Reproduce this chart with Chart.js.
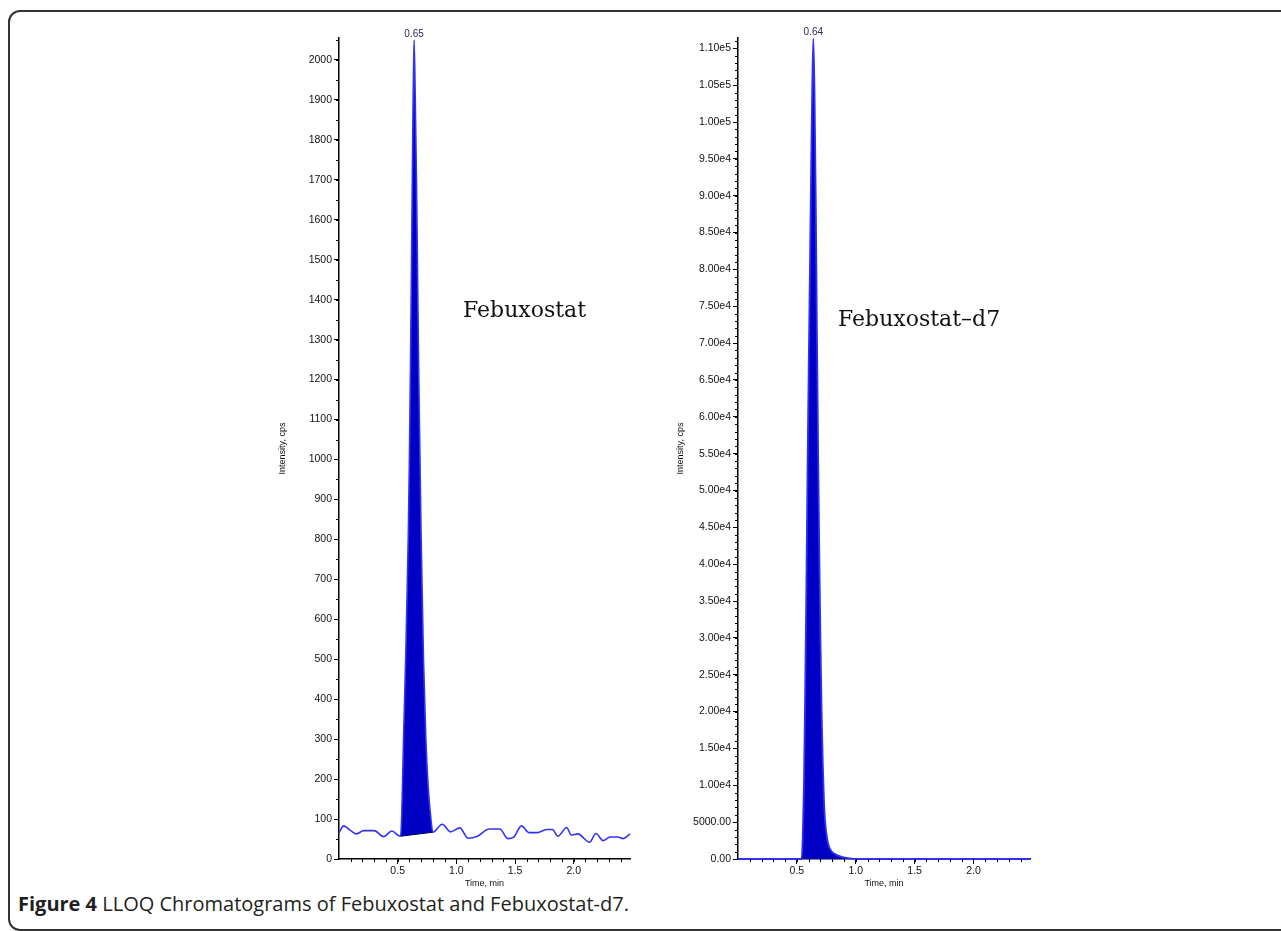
<!DOCTYPE html>
<html>
<head>
<meta charset="utf-8">
<script src="https://cdn.jsdelivr.net/npm/chart.js@4.4.1/dist/chart.umd.min.js"></script>
<style>
html,body{margin:0;padding:0;background:#fff;}
body{width:1281px;height:931px;position:relative;overflow:hidden;}
#frame{position:absolute;left:8px;top:10px;width:1320px;height:921px;border:2px solid #333;border-radius:12px;box-sizing:border-box;}
.box{position:absolute;top:20px;width:390px;height:870px;}
#leftBox{left:260px}
#rightBox{left:660px}
.name{position:absolute;font-family:"DejaVu Serif",serif;font-size:22px;line-height:22px;color:#111;white-space:nowrap;}
#caption{position:absolute;left:18px;top:890px;font-family:"Open Sans",sans-serif;font-size:20px;color:#231f20;white-space:nowrap;}
#caption b{font-weight:700}
</style>
</head>
<body>
<div id="frame"></div>
<div class="box" id="leftBox"><canvas id="leftChart" width="390" height="870"></canvas></div>
<div class="box" id="rightBox"><canvas id="rightChart" width="390" height="870"></canvas></div>
<div class="name" style="left:463px;top:299px">Febuxostat</div>
<div class="name" style="left:838px;top:308px">Febuxostat–d7</div>
<div id="caption"><b>Figure 4</b> LLOQ Chromatograms of Febuxostat and Febuxostat-d7.</div>

<script>
/* ---------- data ---------- */
// left: Febuxostat trace (time, min / intensity, cps)
const leftTime = [0.00,0.04,0.10,0.15,0.21,0.30,0.38,0.45,0.51,0.525,
  0.535,0.55,0.57,0.59,0.60,0.61,0.62,0.63,0.64,0.65,0.66,0.67,0.68,0.69,0.70,0.72,0.74,0.76,0.78,0.80,
  0.88,0.95,1.03,1.10,1.18,1.28,1.37,1.44,1.49,1.555,1.62,1.69,1.77,1.82,1.865,1.94,1.98,2.035,2.135,2.19,2.25,2.31,2.375,2.42,2.48];
const leftIntensity = [66,83,71,63,71,71,56,70,58,57,
  110,300,520,800,1000,1250,1550,1850,2050,1900,1700,1450,1200,1000,800,500,300,180,110,67,
  87,68,78,52,57,75,75,51,55,83,66,66,74,74,57,79,60,63,42,64,46,55,55,51,63];
// integration baseline under the peak
const leftBaseTime = [0.525, 0.80];
const leftBaseIntensity = [57, 67];
const leftPeakLabel = "0.65";
const leftYTicks = [0,100,200,300,400,500,600,700,800,900,1000,1100,1200,1300,1400,1500,1600,1700,1800,1900,2000];

// right: Febuxostat-d7 trace
const rightTime = [0.00,0.50,0.54,0.55,0.56,0.57,0.58,0.59,0.60,0.61,0.62,0.63,0.64,0.65,0.66,0.67,0.68,0.69,0.70,0.71,0.72,0.73,0.74,0.76,0.78,0.82,0.88,0.95,1.00,1.50,2.00,2.48];
const rightIntensity = [0,0,0,3000,10000,22000,36000,52000,66000,79000,92000,104000,111300,104000,90000,72000,56000,42000,30000,20000,13000,8000,5000,2500,1400,700,300,80,0,0,0,0];
const rightPeakLabel = "0.64";
const rightYTicks = [0,5000,10000,15000,20000,25000,30000,35000,40000,45000,50000,55000,60000,65000,70000,75000,80000,85000,90000,95000,100000,105000,110000];
const rightYLabels = ["0.00","5000.00","1.00e4","1.50e4","2.00e4","2.50e4","3.00e4","3.50e4","4.00e4","4.50e4","5.00e4","5.50e4","6.00e4","6.50e4","7.00e4","7.50e4","8.00e4","8.50e4","9.00e4","9.50e4","1.00e5","1.05e5","1.10e5"];

const xTicks = [0.5, 1.0, 1.5, 2.0];

/* ---------- plugin: minor ticks + peak label ---------- */
const axisExtras = {
  id: 'axisExtras',
  afterDraw(chart, args, o) {
    const {ctx, scales: {x, y}} = chart;
    ctx.save();
    ctx.strokeStyle = '#000';
    ctx.lineWidth = 1;
    ctx.beginPath();
    for (let v = o.xMinor; v <= x.max + 1e-9; v += o.xMinor) {
      const px = Math.round(x.getPixelForValue(v)) + 0.5;
      ctx.moveTo(px, y.bottom); ctx.lineTo(px, y.bottom + 3);
    }
    for (let v = o.yMinor; v <= y.max; v += o.yMinor) {
      const py = Math.round(y.getPixelForValue(v)) + 0.5;
      ctx.moveTo(x.left, py); ctx.lineTo(x.left - 3, py);
    }
    ctx.stroke();

    // retention time over the apex
    const ds = chart.data.datasets[0].data;
    let top = ds[0];
    ds.forEach(p => { if (p.y > top.y) top = p; });
    ctx.font = '10px "Liberation Sans"';
    ctx.fillStyle = '#2a2a55';
    ctx.textAlign = 'center';
    ctx.textBaseline = 'bottom';
    ctx.fillText(o.peakLabel, x.getPixelForValue(top.x), y.getPixelForValue(top.y) - 1);
    ctx.restore();
  }
};

const tickFont = {family: 'Liberation Sans', size: 10.5};
const titleFont = {family: 'Liberation Sans', size: 9};

function makeChart(id, cfg) {
  return new Chart(document.getElementById(id), {
    type: 'line',
    data: {datasets: cfg.datasets},
    options: {
      responsive: false,
      animation: false,
      devicePixelRatio: 1,
      layout: {padding: {top: 18, right: 20, left: 0, bottom: 0}},
      plugins: {
        legend: {display: false},
        tooltip: {enabled: false},
        axisExtras: {xMinor: 0.1, yMinor: cfg.yMinor, peakLabel: cfg.peakLabel}
      },
      elements: {point: {radius: 0}},
      scales: {
        x: {
          type: 'linear', min: 0, max: 2.48,
          afterBuildTicks: s => { s.ticks = xTicks.map(v => ({value: v})); },
          afterFit: s => { s.height = 31; },
          ticks: {font: tickFont, color: '#111', padding: 1, maxRotation: 0, autoSkip: false,
                  callback: v => v.toFixed(1)},
          grid: {drawOnChartArea: false, drawTicks: true, tickLength: 5, color: '#000'},
          border: {display: true, color: '#000', width: 1.5},
          title: {display: true, text: 'Time, min', font: titleFont, color: '#111', padding: {top: 0, bottom: 0.6}}
        },
        y: {
          type: 'linear', min: 0, max: cfg.yMax,
          afterBuildTicks: s => { s.ticks = cfg.yTicks.map(v => ({value: v})); },
          afterFit: s => { s.width = cfg.yWidth; },
          ticks: {font: tickFont, color: '#111', padding: 2, autoSkip: false, callback: cfg.yLabel},
          grid: {drawOnChartArea: false, drawTicks: true, tickLength: 5, color: '#000'},
          border: {display: true, color: '#000', width: 1.5},
          title: {display: true, text: 'Intensity, cps', font: titleFont, color: '#111', padding: {top: cfg.titlePad, bottom: 0}}
        }
      }
    },
    plugins: [axisExtras]
  });
}

const pts = (xs, ys) => xs.map((t, i) => ({x: t, y: ys[i]}));

makeChart('leftChart', {
  yMax: 2055, yMinor: 50, yWidth: 79, titlePad: 17.6,
  yTicks: leftYTicks, yLabel: v => String(v), peakLabel: leftPeakLabel,
  datasets: [
    {data: pts(leftTime, leftIntensity), borderColor: '#3333f2', borderWidth: 1.6,
     cubicInterpolationMode: 'monotone', fill: {target: '+1'}, backgroundColor: '#0000c4', clip: 4},
    {data: pts(leftBaseTime, leftBaseIntensity), borderColor: '#000', borderWidth: 1, fill: false}
  ]
});

makeChart('rightChart', {
  yMax: 111400, yMinor: 1000, yWidth: 78, titlePad: 15.6,
  yTicks: rightYTicks, yLabel: (v, i) => rightYLabels[i], peakLabel: rightPeakLabel,
  datasets: [
    {data: pts(rightTime, rightIntensity), borderColor: '#2f2ff5', borderWidth: 1.8,
     cubicInterpolationMode: 'monotone', fill: 'origin', backgroundColor: '#0000c4', clip: 4}
  ]
});
</script>
</body>
</html>
